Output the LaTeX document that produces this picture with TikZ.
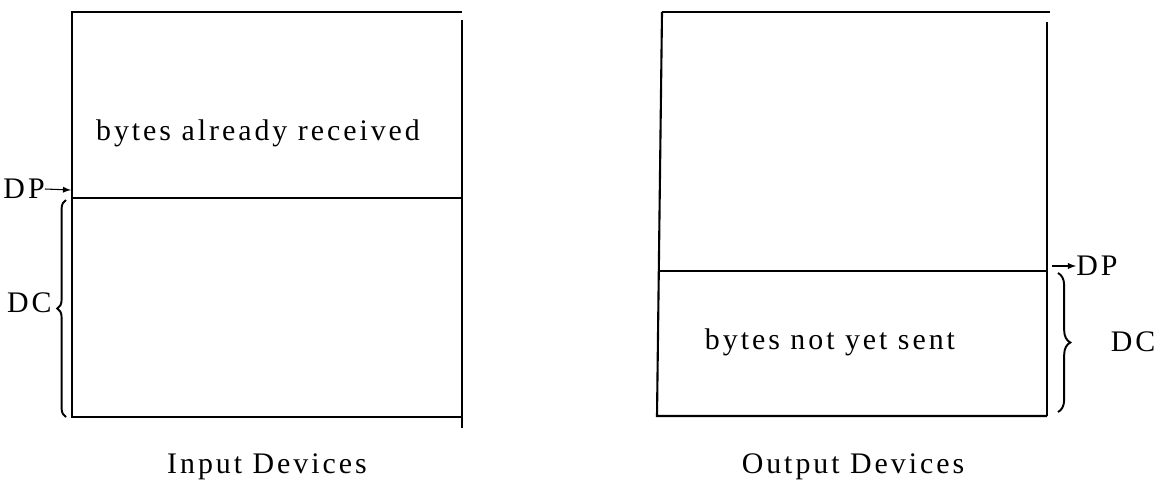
\documentclass[tikz,border=0pt]{standalone}
\usepackage{fontspec}
\setmainfont{Liberation Serif}[LetterSpace=10]
\usetikzlibrary{decorations.pathreplacing}

\tikzstyle{bufferline}=[line width=1.2pt]
\tikzstyle{pointerarc}=[->,>=latex,line width=0.6pt]
\tikzstyle{countbrace}=[decorate,decoration={brace,amplitude=5pt},line width=1.1pt]
\tikzstyle{bufftext}=[font=\fontsize{17}{20}\selectfont,inner sep=0pt]

\begin{document}
\begin{tikzpicture}[x=0.02cm,y=-0.02cm]

\useasboundingbox (0,0) rectangle (1158,487);

% input buffer
\coordinate (INTOPLEFT) at (72,12);
\coordinate (INTOPRIGHT) at (462,12);
\coordinate (INMIDLEFT) at (72,198);
\coordinate (INMIDRIGHT) at (462,198);
\coordinate (INBOTLEFT) at (72,417);
\coordinate (INBOTRIGHT) at (462,417);

\draw[bufferline] (INTOPRIGHT) -- (INTOPLEFT) -- (INBOTLEFT) -- (INBOTRIGHT);
\draw[bufferline] (462,20) -- (462,428);
\draw[bufferline] (INMIDLEFT) -- (INMIDRIGHT);

\node[bufftext] (RECEIVED) at (258,133) {bytes already received};
\node[bufftext] (INPUT) at (267,467) {Input Devices};

\node[bufftext,anchor=east] (INDP) at (45,189) {DP};
\coordinate (INDPHEAD) at (71,190);
\draw[pointerarc] (INDP.east) -- (INDPHEAD);
\coordinate (INBRACETOP) at (66,200);
\coordinate (INBRACEBOT) at (66,417);
\draw[countbrace] (INBRACEBOT) -- (INBRACETOP);
\node[bufftext,anchor=east] (INDC) at (52,303) {DC};

% output buffer
\coordinate (OUTTOPLEFT) at (662,12);
\coordinate (OUTTOPRIGHT) at (1050,12);
\coordinate (OUTMIDLEFT) at (659,271);
\coordinate (OUTMIDRIGHT) at (1047,271);
\coordinate (OUTBOTLEFT) at (657,416);
\coordinate (OUTBOTRIGHT) at (1047,416);

\draw[bufferline] (OUTTOPLEFT) -- (OUTTOPRIGHT);
\draw[bufferline] (OUTTOPLEFT) -- (OUTBOTLEFT) -- (OUTBOTRIGHT);
\draw[bufferline] (1047,22) -- (OUTBOTRIGHT);
\draw[bufferline] (OUTMIDLEFT) -- (OUTMIDRIGHT);

\node[bufftext] (SENT) at (830,342) {bytes not yet sent};
\node[bufftext] (OUTPUT) at (853,467) {Output Devices};

\node[bufftext,anchor=west] (OUTDP) at (1076,266) {DP};
\coordinate (OUTDPTAIL) at (1052,266);
\draw[pointerarc] (OUTDPTAIL) -- (OUTDP.west);
\coordinate (OUTBRACETOP) at (1058,273);
\coordinate (OUTBRACEBOT) at (1058,412);
\draw[countbrace,decoration={amplitude=7pt}] (OUTBRACETOP) -- (OUTBRACEBOT);
\node[bufftext] (OUTDC) at (1133,342) {DC};

\end{tikzpicture}
\end{document}
